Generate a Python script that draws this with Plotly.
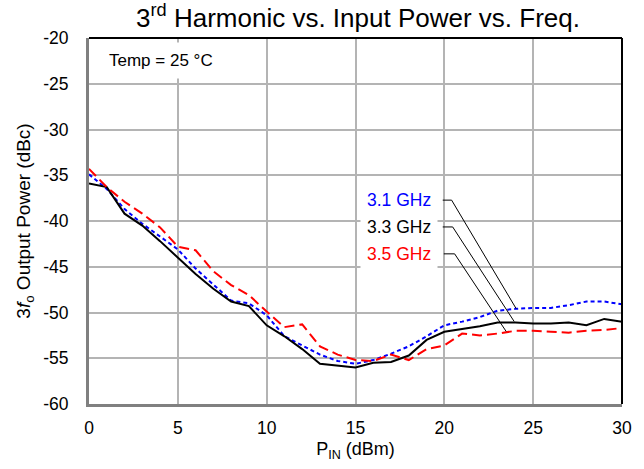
import plotly.graph_objects as go

pin = list(range(0, 31))
f31 = [-34.9, -36.5, -38.7, -40.3, -41.7, -43.1, -45.2, -47.0, -48.7, -49.0,
       -50.3, -52.6, -53.6, -54.6, -55.3, -55.6, -55.2, -54.5, -53.7, -52.6,
       -51.4, -51.0, -50.5, -49.8, -49.6, -49.5, -49.5, -49.2, -48.8, -48.8, -49.1]
f33 = [-35.9, -36.3, -39.2, -40.5, -42.2, -44.0, -45.8, -47.4, -48.8, -49.3,
       -51.4, -52.6, -54.0, -55.6, -55.8, -56.0, -55.5, -55.4, -54.7, -53.0,
       -52.1, -51.8, -51.5, -51.1, -51.1, -51.2, -51.2, -51.1, -51.4, -50.7, -51.0]
f35 = [-34.3, -36.3, -37.9, -39.2, -40.7, -42.8, -43.2, -45.5, -47.0, -48.1,
       -49.9, -51.6, -51.3, -53.7, -54.6, -55.2, -55.3, -54.6, -55.2, -54.0,
       -53.6, -52.3, -52.5, -52.3, -52.0, -52.0, -52.1, -52.2, -52.0, -51.9, -51.7]

names = ["3.1 GHz", "3.3 GHz", "3.5 GHz"]
colors = ["#0000ff", "#000000", "#ff0000"]
dashes = ["4px,3px", "solid", "10px,5px"]

x_ticks = [0, 5, 10, 15, 20, 25, 30]
y_ticks = [-60, -55, -50, -45, -40, -35, -30, -25, -20]
y_ticktext = ["-60", "-55", "-50", "-45", "-40", "-35", "-30", "-25", "-20"]

fig = go.Figure()
for y, n, c, d in zip([f31, f33, f35], names, colors, dashes):
    fig.add_trace(go.Scatter(x=pin, y=y, mode="lines", name=n,
                             line=dict(color=c, width=2, dash=d)))

font = "Liberation Sans, Arial, sans-serif"

# leader lines (label -> curve)
leaders = [
    [(19.91, -37.72), (20.41, -37.72), (24.04, -49.57)],
    [(19.91, -40.65), (20.47, -40.65), (23.93, -50.98)],
    [(19.97, -43.59), (20.58, -43.59), (23.48, -52.07)],
]
label_y = [-37.72, -40.65, -43.59]
for n, c, ly in zip(names, colors, label_y):
    fig.add_annotation(x=19.63, y=ly, xref="x", yref="y", text=n, showarrow=False,
                       xanchor="right", yanchor="middle",
                       font=dict(family=font, size=17.5, color=c),
                       bgcolor="white", borderpad=6)
for pts in leaders:
    path = "M {} {} L {} {} L {} {}".format(pts[0][0], pts[0][1], pts[1][0], pts[1][1], pts[2][0], pts[2][1])
    fig.add_shape(type="path", path=path, xref="x", yref="y",
                  line=dict(color="black", width=1))

fig.add_annotation(x=0.02, y=0.9375, xref="paper", yref="paper", text="Temp = 25 °C",
                   showarrow=False, xanchor="left", yanchor="middle",
                   font=dict(family=font, size=17, color="black"),
                   bgcolor="white", borderpad=8)

# top and right black borders
fig.add_shape(type="line", xref="paper", yref="paper", x0=0, x1=1, y0=1, y1=1,
              line=dict(color="black", width=2))
fig.add_shape(type="line", xref="paper", yref="paper", x0=1, x1=1, y0=0, y1=1,
              line=dict(color="black", width=2))

fig.update_layout(
    width=644, height=469,
    margin=dict(l=89, r=17, t=38, b=63),
    paper_bgcolor="white", plot_bgcolor="white",
    showlegend=False,
    font=dict(family=font, size=17, color="black"),
    title=dict(text="3<sup>rd</sup> Harmonic vs. Input Power vs. Freq.",
               x=358 / 644, xanchor="center", y=1 - 18 / 469, yanchor="middle",
               font=dict(family=font, size=26, color="black")),
    xaxis=dict(range=[0, 30], tickvals=x_ticks,
               showgrid=True, gridcolor="#b4b4b4", gridwidth=1.5,
               showline=True, linecolor="#808080", linewidth=3,
               zeroline=False, ticks="", ticklen=0, ticklabelstandoff=6,
               tickfont=dict(family=font, size=17.5),
               title=dict(text="P<sub>IN</sub> (dBm)", standoff=6,
                          font=dict(family=font, size=18))),
    yaxis=dict(range=[-60, -20], tickvals=y_ticks, ticktext=y_ticktext,
               showgrid=True, gridcolor="#b4b4b4", gridwidth=1.5,
               showline=True, linecolor="#808080", linewidth=3,
               zeroline=False, ticks="", ticklen=0, ticklabelstandoff=14,
               tickfont=dict(family=font, size=17.5),
               title=dict(text="3<i>f</i><sub>o</sub> Output Power (dBc)", standoff=8,
                          font=dict(family=font, size=19))),
)

fig.write_html("out.html", config={"displayModeBar": False},
               post_script="document.body.style.margin='0px';")
